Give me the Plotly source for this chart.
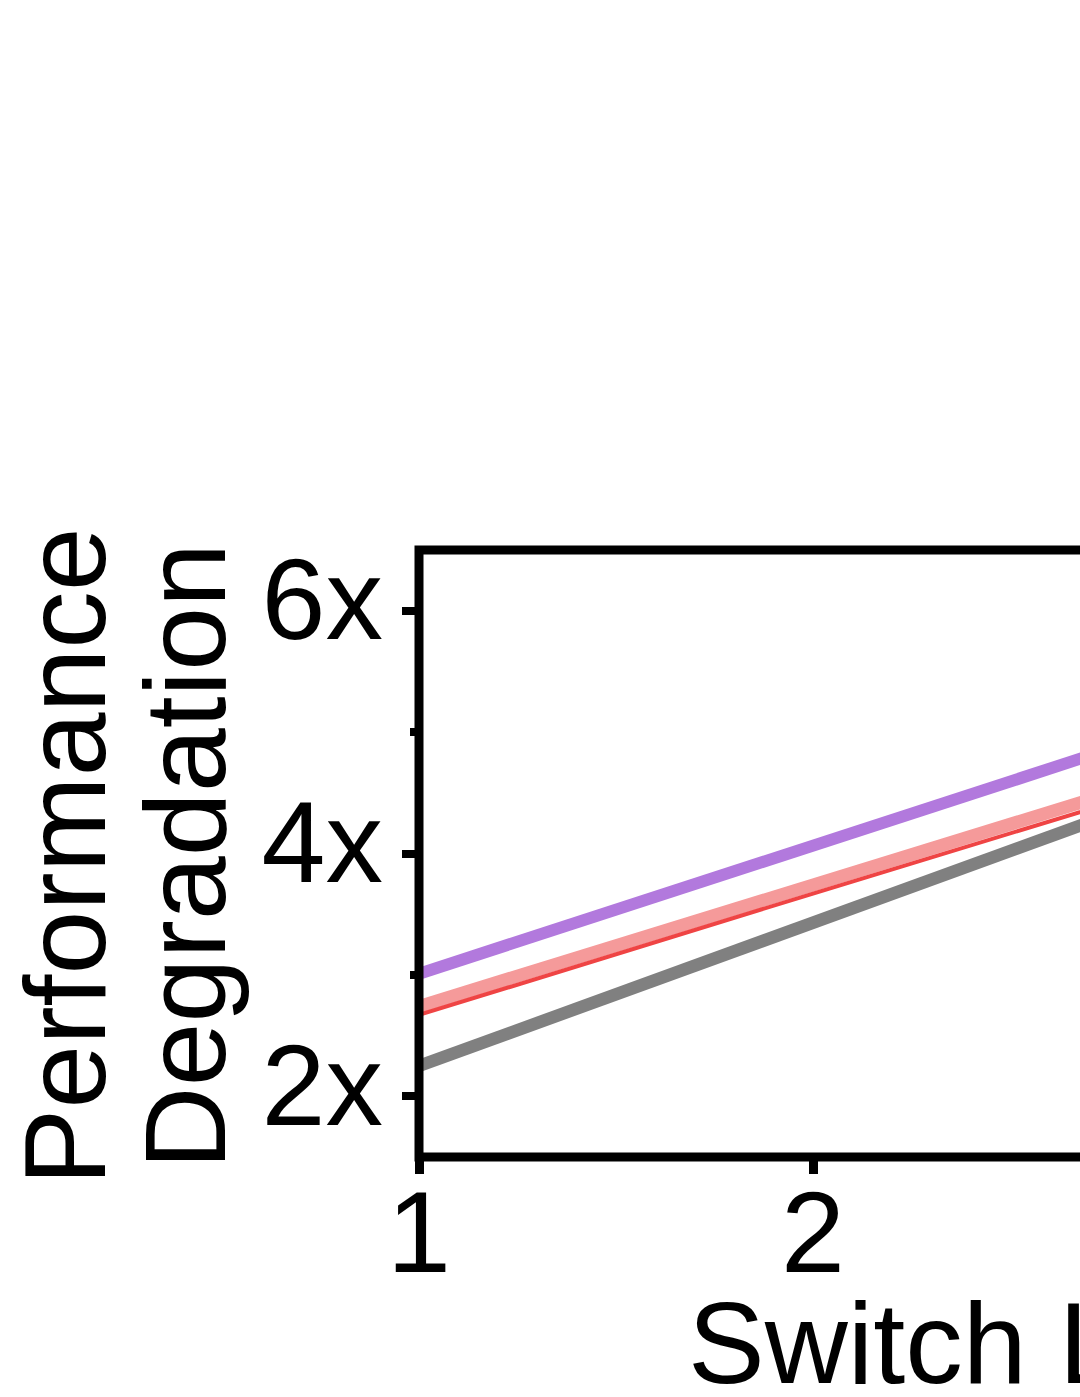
import plotly.graph_objects as go

# switch count on x, slowdown factor on y
x_vals = [1, 2, 3]
purple_vals = [3.01, 4.07, 5.12]
pink_vals = [2.74, 3.74, 4.74]
red_vals = [2.67, 3.67, 4.66]
gray_vals = [2.25, 3.43, 4.61]

y_ticks = [2, 4, 6]
y_title_lines = ["Performance", "Degradation"]
x_title = "Switch Latency"

FONT = "Arial, Liberation Sans, sans-serif"
FS = 115

fig = go.Figure()
fig.add_trace(go.Scatter(x=x_vals, y=pink_vals, mode="lines",
                         line=dict(color="#f59a9a", width=13)))
fig.add_trace(go.Scatter(x=x_vals, y=red_vals, mode="lines",
                         line=dict(color="#ef4444", width=4)))
fig.add_trace(go.Scatter(x=x_vals, y=gray_vals, mode="lines",
                         line=dict(color="#808080", width=12.5)))
fig.add_trace(go.Scatter(x=x_vals, y=purple_vals, mode="lines",
                         line=dict(color="#b279dd", width=12)))

# frame drawn as a shape so it sits centred on the plot edge
fig.add_shape(type="rect", xref="paper", yref="paper", x0=0, x1=1, y0=0, y1=1,
              line=dict(color="black", width=9), layer="above")

fig.add_annotation(text=y_title_lines[0], textangle=-90, xref="paper", yref="paper",
                   x=0, y=0.5, xshift=64 - 419, yshift=-3, xanchor="center", yanchor="middle",
                   showarrow=False, font=dict(family=FONT, size=FS, color="black"))
fig.add_annotation(text=y_title_lines[1], textangle=-90, xref="paper", yref="paper",
                   x=0, y=0.5, xshift=184 - 419, yshift=-3, xanchor="center", yanchor="middle",
                   showarrow=False, font=dict(family=FONT, size=FS, color="black"))
fig.add_annotation(text=x_title, xref="paper", yref="paper", x=0, y=0,
                   xshift=686 - 419, yshift=-(1343 - 1157), xanchor="left", yanchor="middle",
                   showarrow=False, font=dict(family=FONT, size=FS, color="black"))

fig.update_xaxes(range=[1, 3], tickmode="linear", tick0=1, dtick=1,
                 ticks="outside", ticklen=16, tickwidth=9, tickcolor="black",
                 ticklabelstandoff=-40,
                 showline=False, showgrid=False, zeroline=False, automargin=False,
                 tickfont=dict(family=FONT, size=FS, color="black"))
fig.update_yaxes(range=[1.5, 6.5], tickmode="array", tickvals=y_ticks,
                 ticktext=[f"{v}x" for v in y_ticks],
                 ticks="outside", ticklen=16, tickwidth=8, tickcolor="black",
                 ticklabelstandoff=-4, ticklabelshift=-12,
                 minor=dict(tickvals=[3, 5], ticks="outside", ticklen=8, tickwidth=8,
                            tickcolor="black"),
                 showline=False, showgrid=False, zeroline=False, automargin=False,
                 tickfont=dict(family=FONT, size=FS, color="black"))

fig.update_layout(width=1227, height=1397, showlegend=False,
                  plot_bgcolor="white", paper_bgcolor="white",
                  margin=dict(l=419, r=20, t=550, b=240))

# figure is wider than the window: drop page margin and scrollbars
fig.write_html("out.html", config={"displayModeBar": False},
               post_script="document.body.style.margin='0';document.body.style.overflow='hidden';")
